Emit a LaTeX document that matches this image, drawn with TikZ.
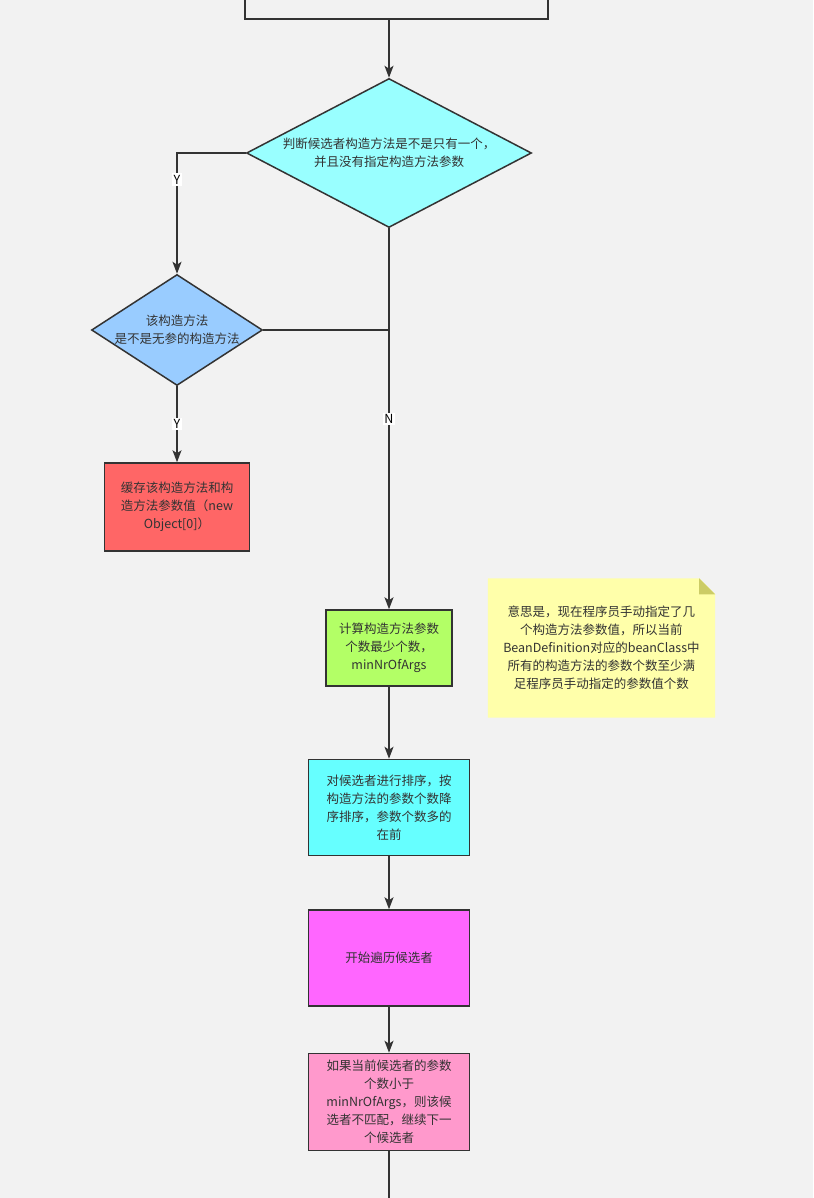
\documentclass[tikz,border=0pt]{standalone}
\usepackage{fontspec}
\setmainfont{Noto Sans CJK SC}
\usepackage{xcolor}
\usepackage{tikz}
\usetikzlibrary{positioning, arrows.meta, shapes.geometric, backgrounds}
\definecolor{canvas}{HTML}{F2F2F2}
\definecolor{ink}{HTML}{333333}
\definecolor{askcyan}{HTML}{99FFFF}
\definecolor{askblue}{HTML}{99CCFF}
\definecolor{cachered}{HTML}{FF6666}
\definecolor{calcgreen}{HTML}{B3FF66}
\definecolor{sortcyan}{HTML}{66FFFF}
\definecolor{loopmagenta}{HTML}{FF66FF}
\definecolor{checkpink}{HTML}{FF99CC}
\definecolor{notefill}{HTML}{FFFFAA}
\definecolor{notefold}{HTML}{CCCC66}
\newcommand{\cnfont}{\fontsize{12.5}{18}\selectfont}
\tikzset{
  decision/.style = {diamond, draw=ink, line width=1.5pt, inner sep=-2pt,
                     align=center, font=\cnfont, text=ink},
  process/.style  = {rectangle, draw=ink, line width=1.5pt, inner sep=0pt,
                     align=center, font=\cnfont, text=ink},
  memo/.style     = {rectangle, inner sep=0pt, align=center, font=\cnfont, text=ink},
  lbl/.style      = {fill=white, inner sep=1.5pt, font=\cnfont, text=black},
  ar/.style       = {-{Stealth[length=12pt,width=9pt,inset=3pt]}, line width=1.5pt, draw=ink},
  ln/.style       = {line width=1.5pt, draw=ink},
}

\begin{document}
\begin{tikzpicture}[x=1pt, y=-1pt, node distance=40pt]

  \begin{scope}[on background layer]
    \fill[canvas] (0,0) rectangle (813,1198);
  \end{scope}
  \useasboundingbox (0,0) rectangle (813,1198);
  \clip (0,0) rectangle (813,1198);

  \node[process, fill=canvas, minimum width=303pt, minimum height=60pt] (prev) at (396.5,-11) {};

  \node[decision, fill=askcyan, aspect=1.91, minimum width=285pt, minimum height=149pt] (only) at (389,153)
       {判断候选者构造方法是不是只有一个，\\并且没有指定构造方法参数};
  \node[decision, fill=askblue, aspect=1.54, minimum width=171pt, minimum height=111pt] (noarg) at (177,330)
       {该构造方法\\是不是无参的构造方法};

  \node[process, fill=cachered, minimum width=145pt, minimum height=88pt, below=76pt of noarg] (cache)
       {缓存该构造方法和构\\造方法参数值（new\\Object[0]）};

  \node[process, fill=calcgreen, minimum width=126pt, minimum height=76pt, below=381pt of only] (calc)
       {计算构造方法参数\\个数最少个数，\\minNrOfArgs};
  \node[process, fill=sortcyan, minimum width=161pt, minimum height=96pt, below=72pt of calc] (sort)
       {对候选者进行排序，按\\构造方法的参数个数降\\序排序，参数个数多的\\在前};
  \node[process, fill=loopmagenta, minimum width=161pt, minimum height=96pt, below=53pt of sort] (loop)
       {开始遍历候选者};
  \node[process, fill=checkpink, minimum width=161pt, minimum height=97pt, below=46pt of loop] (check)
       {如果当前候选者的参数\\个数小于\\minNrOfArgs，则该候\\选者不匹配，继续下一\\个候选者};

  % sticky note with folded corner
  \node[memo, minimum width=227pt, minimum height=139pt, right=35pt of calc] (note)
       {意思是，现在程序员手动指定了几\\个构造方法参数值，所以当前\\BeanDefinition对应的beanClass中\\所有的构造方法的参数个数至少满\\足程序员手动指定的参数值个数};
  \begin{scope}[on background layer]
    \fill[notefill] (note.north west) -- ([xshift=-16pt]note.north east)
      -- ([yshift=-16pt]note.north east) -- (note.south east) -- (note.south west) -- cycle;
  \end{scope}
  \fill[notefold] ([xshift=-16pt]note.north east) -- ([xshift=-16pt, yshift=-16pt]note.north east)
    -- ([yshift=-16pt]note.north east) -- cycle;

  \draw[ar] (prev.south -| only.north) -- (only.north);
  \draw[ar] (only.west) -| node[lbl, pos=0.61] {Y} (noarg.north);
  \draw[ar] (noarg.south) -- node[lbl] {Y} (cache.north);
  \draw[ar] (only.south) -- node[lbl] {N} (calc.north);
  \coordinate (join) at (only.south |- noarg.east);
  \draw[ln] (noarg.east) -- (join);
  \draw[ar] (calc) -- (sort);
  \draw[ar] (sort) -- (loop);
  \draw[ar] (loop) -- (check);
  \coordinate (onward) at ([yshift=-60pt]check.south);
  \draw[ln] (check.south) -- (onward);

\end{tikzpicture}
\end{document}
